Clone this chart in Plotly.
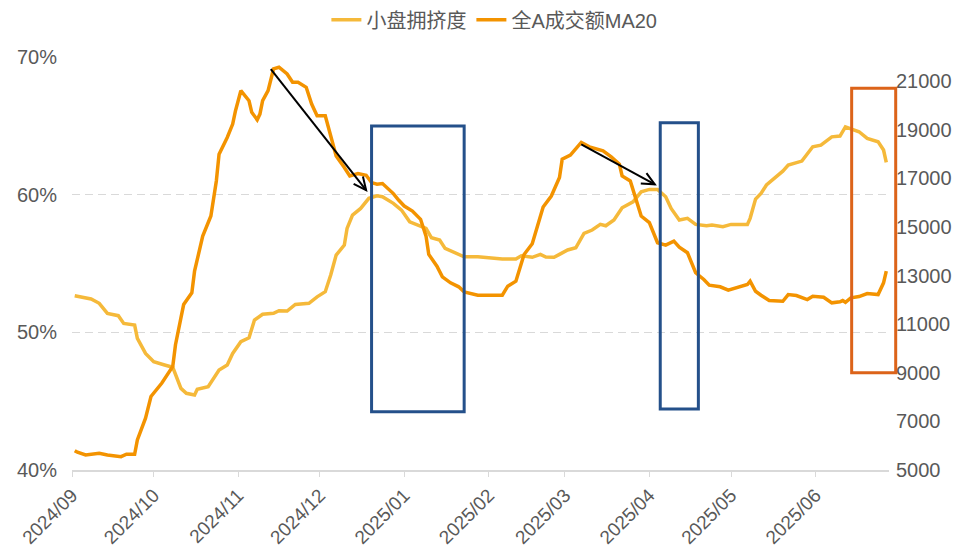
import plotly.graph_objects as go

# 小盘拥挤度 (%), left axis
crowd_dates = [
    "2024-09-02", "2024-09-04", "2024-09-06", "2024-09-08", "2024-09-11", "2024-09-14",
    "2024-09-18", "2024-09-20", "2024-09-24", "2024-09-25", "2024-09-28", "2024-10-01",
    "2024-10-05", "2024-10-08", "2024-10-11", "2024-10-13", "2024-10-16", "2024-10-17",
    "2024-10-21", "2024-10-25", "2024-10-28", "2024-10-30", "2024-11-02", "2024-11-05",
    "2024-11-07", "2024-11-10", "2024-11-14", "2024-11-16", "2024-11-19", "2024-11-22",
    "2024-11-27", "2024-11-30", "2024-12-03", "2024-12-05", "2024-12-07", "2024-12-10",
    "2024-12-11", "2024-12-13", "2024-12-16", "2024-12-19", "2024-12-22", "2024-12-24",
    "2024-12-28", "2024-12-31", "2025-01-03", "2025-01-06", "2025-01-09", "2025-01-11",
    "2025-01-14", "2025-01-16", "2025-01-19", "2025-01-23", "2025-01-28", "2025-02-06",
    "2025-02-11", "2025-02-13", "2025-02-17", "2025-02-20", "2025-02-22", "2025-02-25",
    "2025-02-27", "2025-03-02", "2025-03-05", "2025-03-08", "2025-03-11", "2025-03-14",
    "2025-03-16", "2025-03-19", "2025-03-22", "2025-03-26", "2025-03-29", "2025-04-01",
    "2025-04-04", "2025-04-07", "2025-04-09", "2025-04-12", "2025-04-15", "2025-04-18",
    "2025-04-22", "2025-04-24", "2025-04-28", "2025-05-01", "2025-05-07", "2025-05-08",
    "2025-05-10", "2025-05-12", "2025-05-14", "2025-05-17", "2025-05-20", "2025-05-22",
    "2025-05-27", "2025-05-31", "2025-06-03", "2025-06-07", "2025-06-10", "2025-06-12",
    "2025-06-14", "2025-06-17", "2025-06-20", "2025-06-24", "2025-06-26", "2025-06-27",
]
crowd_vals = [
    52.66, 52.58, 52.47, 52.42, 52.11, 51.38,
    51.21, 50.65, 50.53, 49.56, 48.47, 47.86,
    47.63, 47.46, 45.93, 45.57, 45.45, 45.86,
    46.05, 47.26, 47.63, 48.47, 49.32, 49.61,
    50.89, 51.31, 51.38, 51.57, 51.55, 52.03,
    52.11, 52.58, 52.95, 54.16, 55.61, 56.34,
    57.55, 58.52, 59.00, 59.73, 59.92, 59.85,
    59.37, 58.88, 58.03, 57.79, 57.55, 56.87,
    56.70, 56.10, 55.81, 55.49, 55.49, 55.32,
    55.32, 55.56, 55.45, 55.66, 55.47, 55.45,
    55.66, 55.98, 56.14, 57.19, 57.43, 57.84,
    57.74, 58.16, 59.05, 59.48, 60.21, 60.38,
    60.38, 59.85, 59.00, 58.16, 58.28, 57.84,
    57.74, 57.79, 57.67, 57.84, 57.84, 58.28,
    59.68, 60.09, 60.70, 61.23, 61.71, 62.15,
    62.44, 63.48, 63.60, 64.20, 64.26, 64.93,
    64.76, 64.57, 64.09, 63.84, 63.24, 62.35,
]

# 全A成交额MA20 (亿元), right axis
amount_dates = [
    "2024-09-02", "2024-09-03", "2024-09-06", "2024-09-09", "2024-09-11", "2024-09-14",
    "2024-09-19", "2024-09-21", "2024-09-24", "2024-09-25", "2024-09-28", "2024-09-30",
    "2024-10-04", "2024-10-08", "2024-10-09", "2024-10-11", "2024-10-12", "2024-10-15",
    "2024-10-16", "2024-10-19", "2024-10-22", "2024-10-24", "2024-10-25", "2024-10-28",
    "2024-10-30", "2024-10-31", "2024-11-02", "2024-11-05", "2024-11-06", "2024-11-08",
    "2024-11-09", "2024-11-10", "2024-11-12", "2024-11-14", "2024-11-16", "2024-11-19",
    "2024-11-21", "2024-11-23", "2024-11-26", "2024-11-28", "2024-11-30", "2024-12-03",
    "2024-12-05", "2024-12-07", "2024-12-10", "2024-12-12", "2024-12-15", "2024-12-18",
    "2024-12-20", "2024-12-22", "2024-12-24", "2024-12-28", "2024-12-30", "2025-01-01",
    "2025-01-04", "2025-01-07", "2025-01-09", "2025-01-10", "2025-01-13", "2025-01-15",
    "2025-01-18", "2025-01-21", "2025-01-23", "2025-01-25", "2025-01-28", "2025-02-06",
    "2025-02-08", "2025-02-11", "2025-02-14", "2025-02-17", "2025-02-19", "2025-02-21",
    "2025-02-24", "2025-02-27", "2025-02-28", "2025-03-03", "2025-03-07", "2025-03-10",
    "2025-03-15", "2025-03-18", "2025-03-21", "2025-03-22", "2025-03-25", "2025-03-27",
    "2025-03-29", "2025-04-01", "2025-04-04", "2025-04-07", "2025-04-10", "2025-04-12",
    "2025-04-15", "2025-04-18", "2025-04-21", "2025-04-23", "2025-04-27", "2025-04-30",
    "2025-05-04", "2025-05-07", "2025-05-08", "2025-05-10", "2025-05-12", "2025-05-15",
    "2025-05-20", "2025-05-22", "2025-05-25", "2025-05-29", "2025-05-31", "2025-06-04",
    "2025-06-07", "2025-06-10", "2025-06-11", "2025-06-12", "2025-06-14", "2025-06-17",
    "2025-06-20", "2025-06-24", "2025-06-26", "2025-06-27",
]
amount_vals = [
    5797, 5730, 5619, 5648, 5689, 5619,
    5549, 5648, 5648, 6238, 7134, 8025,
    8578, 9263, 10159, 11261, 11810, 12292,
    13184, 14628, 15454, 16898, 18000, 18689,
    19238, 19775, 20613, 20200, 19721, 19416,
    19651, 20200, 20613, 21508, 21578, 21302,
    20959, 20959, 20753, 20064, 19581, 19581,
    18689, 17930, 17451, 17105, 17203, 17133,
    16832, 16762, 16791, 16378, 16102, 15866,
    15660, 15318, 14628, 13873, 13390, 12953,
    12705, 12540, 12334, 12292, 12193, 12193,
    12565, 12771, 13873, 14315, 15111, 15825,
    16279, 17039, 17794, 17959, 18483, 18301,
    18136, 17889, 17587, 17105, 16898, 16213,
    15454, 15181, 14356, 14257, 14422, 14174,
    13943, 13118, 12841, 12606, 12540, 12400,
    12524, 12635, 12771, 12358, 12193, 11975,
    11946, 12222, 12181, 12016, 12152, 12111,
    11880, 11921, 11975, 11905, 12086, 12140,
    12264, 12222, 12705, 13184,
]

left_ticks = [40, 50, 60, 70]
left_labels = ["40%", "50%", "60%", "70%"]
right_ticks = [5000, 7000, 9000, 11000, 13000, 15000, 17000, 19000, 21000]
right_labels = [str(v) for v in right_ticks]

GRAY = "#595959"
FONT = "Arial, 'Liberation Sans', 'Noto Sans CJK SC', sans-serif"
BLUE = "#24508A"

fig = go.Figure()
fig.add_trace(go.Scatter(x=crowd_dates, y=crowd_vals, name="小盘拥挤度", mode="lines",
                         line=dict(color="#F5B93A", width=3.5)))
fig.add_trace(go.Scatter(x=amount_dates, y=amount_vals, name="全A成交额MA20", mode="lines",
                         line=dict(color="#F39300", width=3.5), yaxis="y2"))

# 框
fig.add_shape(type="rect", xref="x", yref="y", x0="2024-12-20", x1="2025-01-23",
              y0=44.23, y1=64.98, line=dict(color=BLUE, width=3))
fig.add_shape(type="rect", xref="x", yref="y", x0="2025-04-05", x1="2025-04-19",
              y0=44.43, y1=65.22, line=dict(color=BLUE, width=3))
fig.add_shape(type="rect", xref="paper", yref="paper", x0=0.9543, x1=1.0082,
              y0=0.2356, y1=0.9242, line=dict(color="#DC6319", width=3))

# 箭头：箭杆 + 开口箭头
arrows = [
    (("2024-11-13", 69.12), ("2024-12-18", 60.33), "M -12.5,6.2 L 0,0 L -3.2,13.6"),
    (("2025-03-07", 63.65), ("2025-04-03", 60.75), "M -14,0.9 L 0,0 L -8.3,11.3"),
]
for (tx, ty), (hx, hy), head in arrows:
    fig.add_shape(type="line", xref="x", yref="y", x0=tx, y0=ty, x1=hx, y1=hy,
                  line=dict(color="black", width=2))
    fig.add_shape(type="path", xref="x", yref="y", xsizemode="pixel", ysizemode="pixel",
                  xanchor=hx, yanchor=hy, path=head, line=dict(color="black", width=2))

fig.update_layout(
    width=976, height=550,
    margin=dict(l=72, r=87, t=57, b=80, autoexpand=False),
    plot_bgcolor="white", paper_bgcolor="white",
    font=dict(family=FONT, size=20, color=GRAY),
    showlegend=True,
    legend=dict(orientation="h", x=0.517, xanchor="center", y=1.09, yanchor="middle",
                font=dict(size=20, color=GRAY), bgcolor="rgba(0,0,0,0)"),
    xaxis=dict(
        type="date", range=["2024-09-01", "2025-06-28"],
        tick0="2024-09-01", dtick="M1", tickformat="%Y/%m", tickangle=-45,
        ticks="outside", ticklen=5, tickcolor="#D9D9D9", automargin=False,
        showline=True, linecolor="#D9D9D9", linewidth=1.5, showgrid=False,
        tickfont=dict(size=19, color=GRAY),
    ),
    yaxis=dict(
        range=[40, 70], tickmode="array", tickvals=left_ticks, ticktext=left_labels,
        showgrid=True, gridcolor="#D9D9D9", griddash="8px,5px", gridwidth=1.2,
        zeroline=False, showline=False, ticklabelstandoff=14, automargin=False,
        tickfont=dict(size=20, color=GRAY),
    ),
    yaxis2=dict(
        range=[5000, 22000], tickmode="array", tickvals=right_ticks, ticktext=right_labels,
        overlaying="y", side="right", automargin=False,
        showgrid=False, zeroline=False, showline=False, ticklabelstandoff=6,
        tickfont=dict(size=20, color=GRAY),
    ),
)

# 去掉页面默认边距，不显示工具栏
fig.write_html("out.html", config={"displayModeBar": False},
               post_script="document.body.style.margin='0';")
